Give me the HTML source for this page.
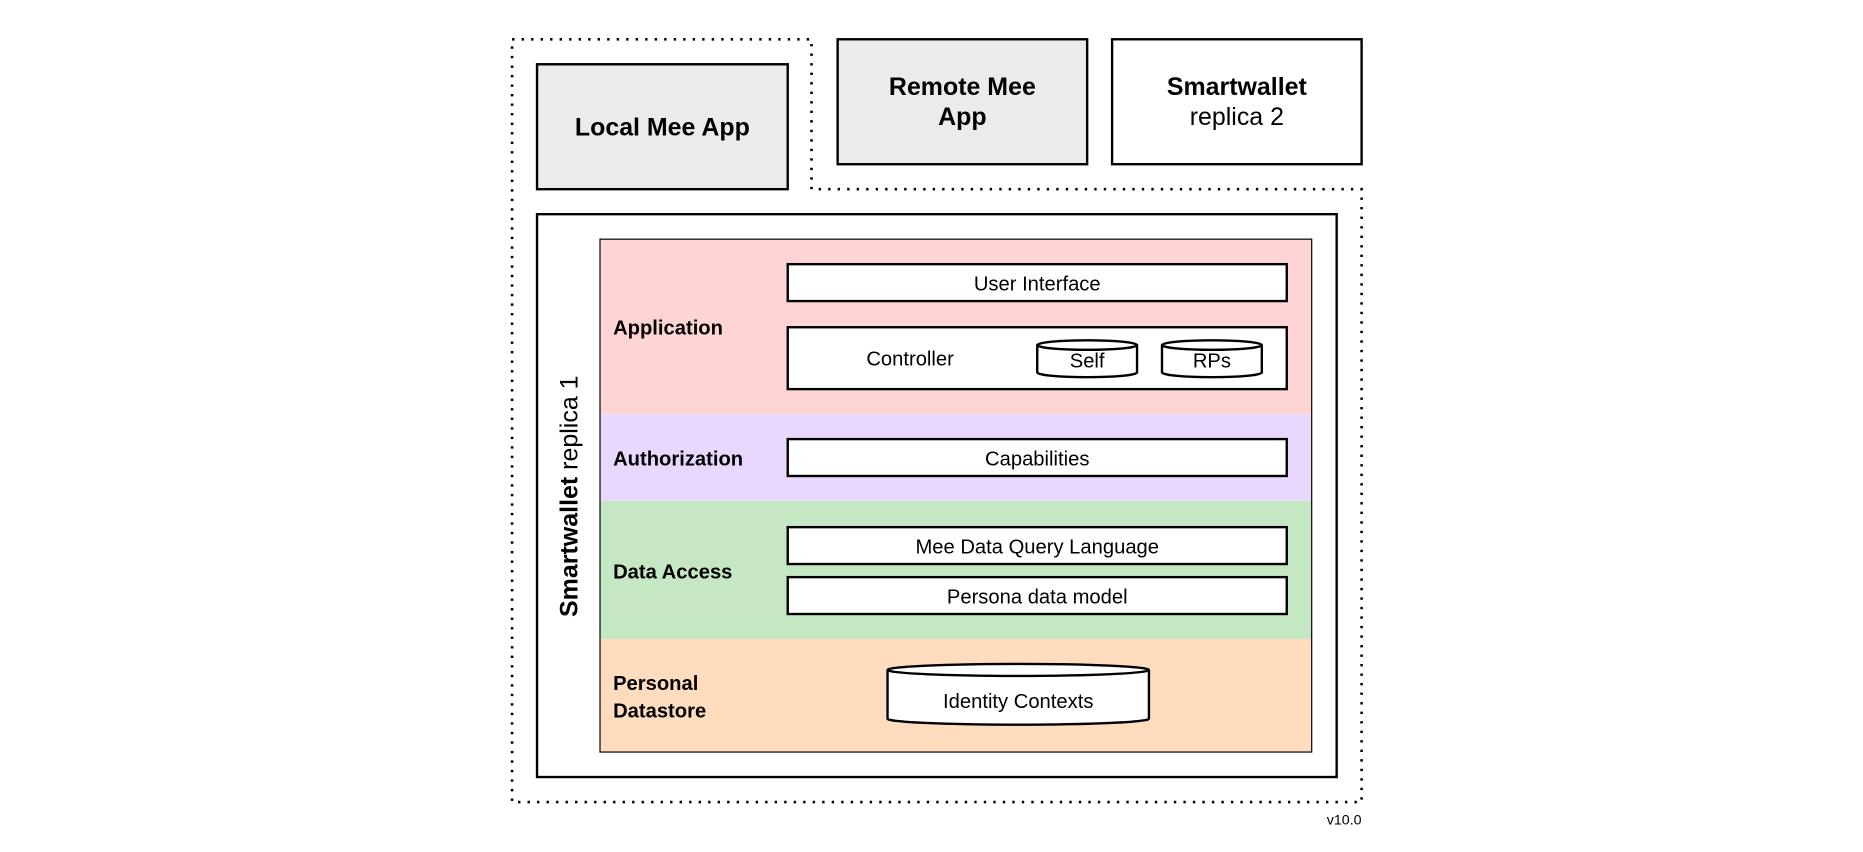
<!DOCTYPE html>
<html><head><meta charset="utf-8"><style>
html,body{margin:0;padding:0;background:#fff;}
svg{display:block;}
text{font-family:"Liberation Sans",sans-serif;fill:#000;}
</style></head><body>
<svg width="1863" height="852" viewBox="0 0 1568 716" preserveAspectRatio="none" xmlns="http://www.w3.org/2000/svg">
<rect width="1568" height="716" fill="#fff"/>
<path d="M431,33 H683 V159 H1146 V674 H431 Z" fill="none" stroke="#000" stroke-width="2.2" stroke-dasharray="2,6"/>
<rect x="452" y="54" width="211" height="105" fill="#ebebeb" stroke="#000" stroke-width="2"/>
<text x="557.5" y="114" font-size="21" font-weight="bold" text-anchor="middle">Local Mee App</text>
<rect x="705" y="33" width="210" height="105" fill="#ebebeb" stroke="#000" stroke-width="2"/>
<text x="810" y="80" font-size="21" font-weight="bold" text-anchor="middle">Remote Mee</text>
<text x="810" y="105" font-size="21" font-weight="bold" text-anchor="middle">App</text>
<rect x="936" y="33" width="210" height="105" fill="#fff" stroke="#000" stroke-width="2"/>
<text x="1041" y="80" font-size="21" font-weight="bold" text-anchor="middle">Smartwallet</text>
<text x="1041" y="105" font-size="21" text-anchor="middle">replica 2</text>
<rect x="452" y="180" width="673" height="473" fill="#fff" stroke="#000" stroke-width="2"/>
<text transform="translate(486,417) rotate(-90)" font-size="21" text-anchor="middle"><tspan font-weight="bold">Smartwallet</tspan> replica 1</text>
<rect x="505" y="201" width="599" height="147" fill="#ffd4d4"/>
<rect x="505" y="348" width="599" height="73" fill="#e9d8fd"/>
<rect x="505" y="421" width="599" height="116" fill="#c6e7c4"/>
<rect x="505" y="537" width="599" height="95" fill="#ffdcbd"/>
<rect x="505" y="201" width="599" height="431" fill="none" stroke="#000" stroke-width="1"/>
<g font-size="17" font-weight="bold">
<text x="516" y="281">Application</text>
<text x="516" y="391">Authorization</text>
<text x="516" y="486">Data Access</text>
<text x="516" y="580">Personal</text>
<text x="516" y="603">Datastore</text>
</g>
<g fill="#fff" stroke="#000" stroke-width="2">
<rect x="663" y="222" width="420" height="31"/>
<rect x="663" y="275" width="420" height="52"/>
<rect x="663" y="369" width="420" height="31"/>
<rect x="663" y="443" width="420" height="31"/>
<rect x="663" y="485" width="420" height="31"/>
</g>
<g font-size="17" text-anchor="middle">
<text x="873" y="244">User Interface</text>
<text x="766" y="307">Controller</text>
<text x="873" y="391">Capabilities</text>
<text x="873" y="465">Mee Data Query Language</text>
<text x="873" y="507">Persona data model</text>
</g>
<g fill="#fff" stroke="#000" stroke-width="2">
<path d="M873,290 V313 A42,4 0 0 0 957,313 V290 A42,4 0 0 0 873,290 Z"/>
<path d="M873,290 A42,4 0 0 0 957,290"/>
<path d="M978,290 V313 A42,4 0 0 0 1062,313 V290 A42,4 0 0 0 978,290 Z"/>
<path d="M978,290 A42,4 0 0 0 1062,290"/>
<path d="M747,563 V604 A110,5 0 0 0 967,604 V563 A110,5 0 0 0 747,563 Z"/>
<path d="M747,563 A110,5 0 0 0 967,563"/>
</g>
<g font-size="17" text-anchor="middle">
<text x="915" y="309">Self</text>
<text x="1020" y="309">RPs</text>
<text x="857" y="595">Identity Contexts</text>
</g>
<text x="1146" y="693" font-size="12" text-anchor="end">v10.0</text>
</svg>
</body></html>
